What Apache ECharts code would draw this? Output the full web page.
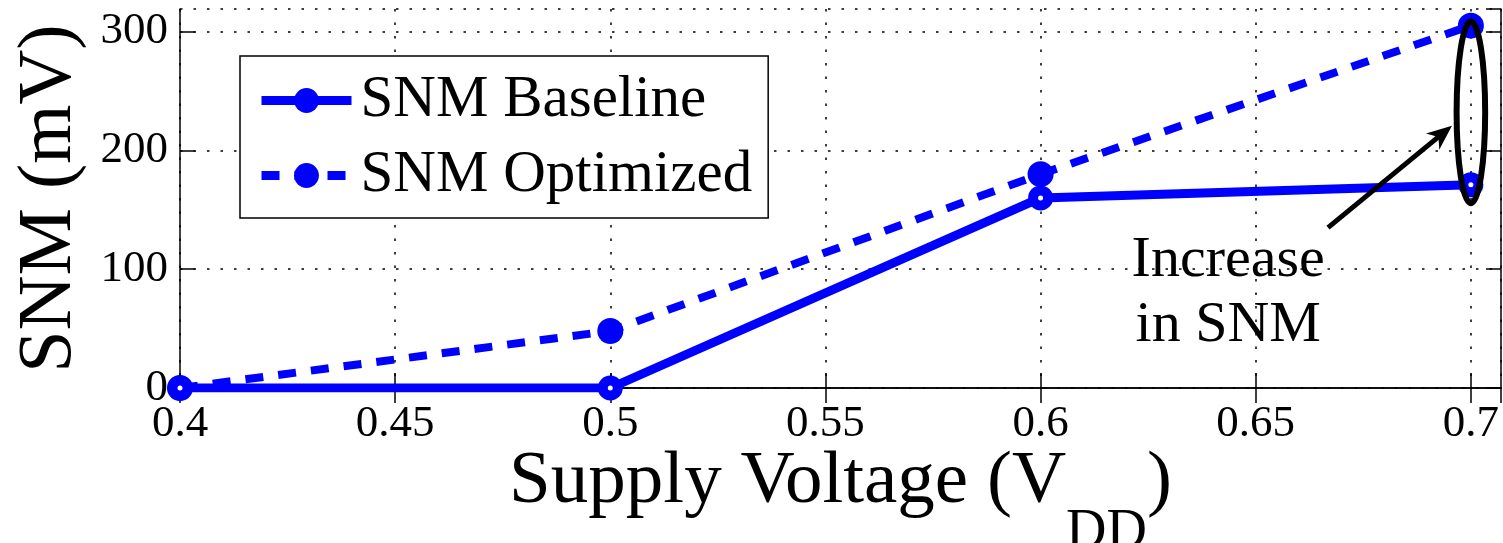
<!DOCTYPE html>
<html>
<head>
<meta charset="utf-8">
<title>SNM vs Supply Voltage</title>
<script src="https://cdn.jsdelivr.net/npm/echarts@6/dist/echarts.min.js"></script>
<style>
  html, body { margin: 0; padding: 0; background: #fff; }
  #chart { width: 1503px; height: 543px; }
</style>
</head>
<body>
<div id="chart"></div>
<script>
const voltages = [0.4, 0.5, 0.6, 0.7]
const snmBaseline = [0, 0, 160, 171]
const snmOptimized = [0, 48, 180, 305]
const seriesNames = ['SNM Baseline', 'SNM Optimized']
const xTicks = [0.4, 0.45, 0.5, 0.55, 0.6, 0.65, 0.7]
const yTicks = [0, 100, 200, 300]

// annotation, in data units
const noteLines = ['Increase', 'in SNM']
const notePos = [0.6436, 80]
const ellipseCenter = [0.7, 232]
const ellipseRadius = [0.00332, 76.5]
const arrowFrom = [0.6668, 135]
const arrowTo = [0.6956, 220.7]

const font = 'Liberation Serif'
const blue = '#0000ff'

const chart = echarts.init(document.getElementById('chart'))

const isTick = (list, v) => list.some(t => Math.abs(t - v) < 1e-9)

const boxAxis = {
  axisLine: { show: true, lineStyle: { color: '#000', width: 1.5 } },
  axisTick: { show: true, inside: true, length: 15, lineStyle: { color: '#000', width: 1.5 } },
  axisLabel: { show: false },
  splitLine: { show: false }
}

const pairs = vals => voltages.map((v, i) => [v, vals[i]])

chart.setOption({
  animation: false,
  backgroundColor: '#fff',
  grid: { left: 180, right: 2, top: 9, bottom: 155, outerBoundsMode: 'none' },
  legend: {
    orient: 'vertical',
    left: 240,
    top: 56,
    selectedMode: false,
    data: [
      { name: seriesNames[0], itemStyle: { color: blue, borderWidth: 0 } },
      { name: seriesNames[1], itemStyle: { color: blue, borderWidth: 0 } }
    ],
    itemWidth: 90,
    itemHeight: 31,
    itemGap: 16,
    padding: [15, 16, 13, 17],
    borderColor: '#000',
    borderWidth: 1.5,
    backgroundColor: '#fff',
    lineStyle: { width: 9 },
    textStyle: { fontFamily: font, fontSize: 59, color: '#000', padding: [0, 0, 0, 4] }
  },
  xAxis: [
    {
      type: 'value',
      min: 0.4,
      max: 0.707,
      interval: 0.05,
      name: '{a|Supply Voltage (V}{s|DD}{a|)}',
      nameLocation: 'middle',
      nameGap: 57,
      nameMoveOverlap: false,
      nameTextStyle: {
        rich: {
          a: { fontFamily: font, fontSize: 75, lineHeight: 80, verticalAlign: 'top', color: '#000' },
          s: { fontFamily: font, fontSize: 56, padding: [60, 0, 0, 0], verticalAlign: 'bottom', color: '#000' }
        }
      },
      axisLine: { show: true, lineStyle: { color: '#000', width: 1.5 } },
      axisTick: { show: true, inside: true, length: 15, lineStyle: { color: '#000', width: 1.5 } },
      axisLabel: {
        margin: 14,
        fontFamily: font,
        fontSize: 45,
        color: '#000',
        showMaxLabel: false,
        formatter: v => isTick(xTicks, v) ? String(v) : ''
      },
      splitLine: { show: true, lineStyle: { color: '#000', width: 1.5, type: [2.5, 11] } }
    },
    Object.assign({ type: 'value', position: 'top', min: 0.4, max: 0.707, interval: 0.05 }, boxAxis)
  ],
  yAxis: [
    {
      type: 'value',
      min: 0,
      max: 319,
      interval: 100,
      name: 'SNM (mV)',
      nameLocation: 'middle',
      nameGap: 92,
      nameMoveOverlap: false,
      nameTextStyle: { fontFamily: font, fontSize: 76, color: '#000' },
      axisLine: { show: true, lineStyle: { color: '#000', width: 1.5 } },
      axisTick: { show: true, inside: true, length: 15, lineStyle: { color: '#000', width: 1.5 } },
      axisLabel: {
        margin: 12,
        fontFamily: font,
        fontSize: 45,
        color: '#000',
        showMaxLabel: false,
        formatter: v => isTick(yTicks, v) ? String(v) : ''
      },
      splitLine: { show: true, lineStyle: { color: '#000', width: 1.5, type: [2.5, 11] } }
    },
    Object.assign({ type: 'value', position: 'right', min: 0, max: 319, interval: 100 }, boxAxis)
  ],
  series: [
    {
      name: seriesNames[0],
      type: 'line',
      z: 3,
      data: pairs(snmBaseline),
      symbol: 'circle',
      symbolSize: 15,
      itemStyle: { color: '#fff', borderColor: blue, borderWidth: 10 },
      lineStyle: { color: blue, width: 9 }
    },
    {
      name: seriesNames[1],
      type: 'line',
      z: 2,
      data: pairs(snmOptimized),
      symbol: 'circle',
      symbolSize: 26,
      itemStyle: { color: blue },
      lineStyle: { color: blue, width: 8, type: [18, 15] }
    }
  ]
})

// annotation: ellipse round the 0.7 V points, arrow and note
const toPx = p => chart.convertToPixel({ seriesIndex: 0 }, p)

const c = toPx(ellipseCenter)
const e = toPx([ellipseCenter[0] + ellipseRadius[0], ellipseCenter[1] + ellipseRadius[1]])
const a0 = toPx(arrowFrom)
const a1 = toPx(arrowTo)
const n = toPx(notePos)

const dx = a1[0] - a0[0]
const dy = a1[1] - a0[1]
const len = Math.sqrt(dx * dx + dy * dy)
const ux = dx / len
const uy = dy / len
const headLen = 25
const headHalf = 10.5
const back = [a1[0] - ux * headLen, a1[1] - uy * headLen]
const notch = [a1[0] - ux * headLen * 0.7, a1[1] - uy * headLen * 0.7]

chart.setOption({
  graphic: [
    {
      type: 'ellipse',
      z: 100,
      shape: { cx: c[0], cy: c[1], rx: Math.abs(e[0] - c[0]), ry: Math.abs(c[1] - e[1]) },
      style: { fill: null, stroke: '#000', lineWidth: 6 }
    },
    {
      type: 'line',
      z: 100,
      shape: { x1: a0[0], y1: a0[1], x2: notch[0], y2: notch[1] },
      style: { stroke: '#000', lineWidth: 5 }
    },
    {
      type: 'polygon',
      z: 100,
      shape: {
        points: [
          a1,
          [back[0] - uy * headHalf, back[1] + ux * headHalf],
          notch,
          [back[0] + uy * headHalf, back[1] - ux * headHalf]
        ]
      },
      style: { fill: '#000' }
    },
    {
      type: 'text',
      z: 100,
      x: n[0],
      y: n[1],
      style: {
        text: noteLines.join('\n'),
        fontFamily: font,
        fontSize: 58,
        lineHeight: 65,
        fill: '#000',
        align: 'center',
        verticalAlign: 'middle'
      }
    }
  ]
})

window.addEventListener('resize', () => chart.resize())
</script>
</body>
</html>
